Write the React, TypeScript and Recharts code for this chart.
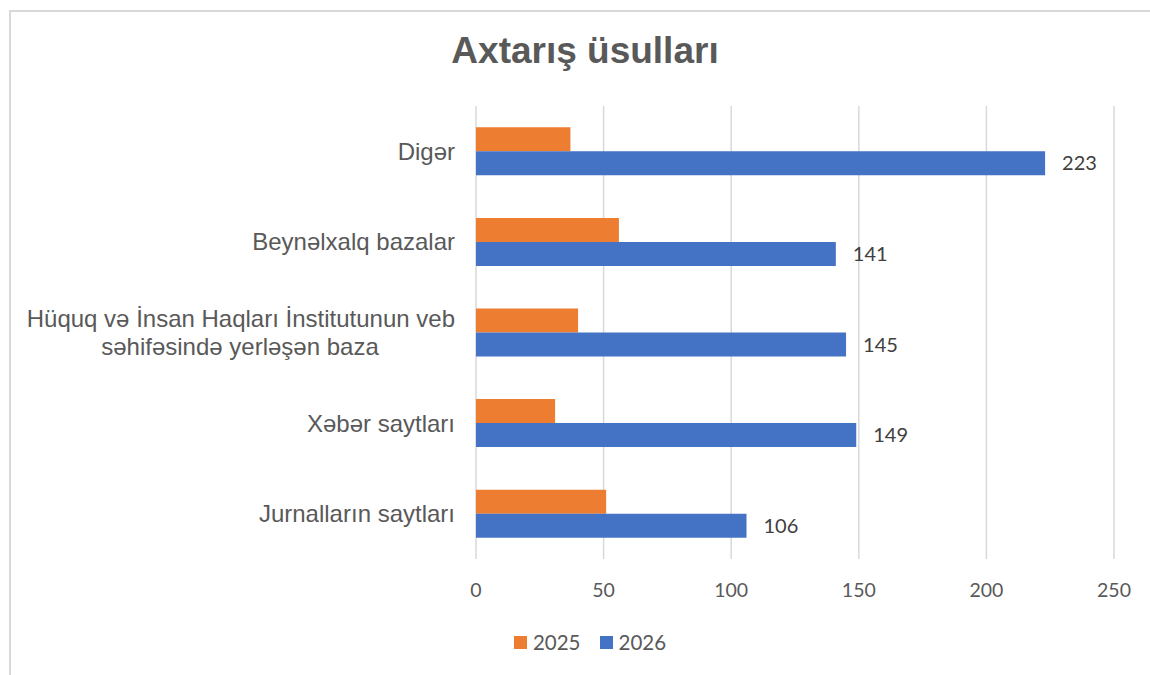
import {
  Bar,
  BarChart,
  CartesianGrid,
  LabelList,
  Legend,
  XAxis,
  YAxis,
} from 'recharts';

const categories = [
  'Digər',
  'Beynəlxalq bazalar',
  'Hüquq və İnsan Haqları İnstitutunun veb|səhifəsində yerləşən baza',
  'Xəbər saytları',
  'Jurnalların saytları',
];
const values2025 = [37, 56, 40, 31, 51];
const values2026 = [223, 141, 145, 149, 106];
const xTicks = [0, 50, 100, 150, 200, 250];

const data = categories.map((name, i) => ({
  name,
  y2025: values2025[i],
  y2026: values2026[i],
}));

const ORANGE = '#ED7D31';
const BLUE = '#4472C4';
const TEXT = '#595959';
const NUM_FONT = 'Lato, "Open Sans", sans-serif';
const LABEL_FONT = '"Liberation Sans", Arial, sans-serif';

function CategoryTick(props: any) {
  const { x, y, payload } = props;
  const lines: string[] = String(payload.value).split('|');
  if (lines.length === 1) {
    return (
      <text x={x} y={y + 8.5} textAnchor="end" fill={TEXT} fontSize={24} fontFamily={LABEL_FONT}>
        {lines[0]}
      </text>
    );
  }
  return (
    <g>
      <text x={x} y={y - 5.5} textAnchor="end" fill={TEXT} fontSize={24} fontFamily={LABEL_FONT}>
        {lines[0]}
      </text>
      <text x={x - 215} y={y + 22.5} textAnchor="middle" fill={TEXT} fontSize={24} fontFamily={LABEL_FONT}>
        {lines[1]}
      </text>
    </g>
  );
}

function LegendContent() {
  const items = [
    { label: '2025', color: ORANGE },
    { label: '2026', color: BLUE },
  ];
  return (
    <div
      style={{
        display: 'flex',
        justifyContent: 'center',
        alignItems: 'center',
        gap: 19,
        height: 28,
        fontFamily: NUM_FONT,
        fontSize: 20.5,
        color: TEXT,
      }}
    >
      {items.map((it) => (
        <span key={it.label} style={{ display: 'inline-flex', alignItems: 'center', gap: 6 }}>
          <span style={{ display: 'inline-block', width: 13, height: 13, background: it.color }} />
          {it.label}
        </span>
      ))}
    </div>
  );
}

export default function App() {
  return (
    <div
      style={{
        position: 'absolute',
        left: 0,
        top: 0,
        width: 1150,
        height: 675,
        background: '#fff',
        overflow: 'hidden',
      }}
    >
      <div
        style={{
          position: 'absolute',
          left: 9,
          top: 10,
          width: 1200,
          height: 700,
          borderLeft: '2px solid #d9d9d9',
          borderTop: '2px solid #d9d9d9',
        }}
      />
      <svg
        width={1150}
        height={80}
        style={{ position: 'absolute', left: 0, top: 0 }}
      >
        <text
          x={585}
          y={63}
          textAnchor="middle"
          fill={TEXT}
          fontSize={37}
          fontWeight="bold"
          fontFamily={LABEL_FONT}
        >
          Axtarış üsulları
        </text>
      </svg>
      <div style={{ position: 'absolute', left: 0, top: 0 }}>
        <BarChart
          width={1150}
          height={675}
          data={data}
          layout="vertical"
          margin={{ top: 106, right: 36, bottom: 86, left: 10 }}
          barCategoryGap="23.5%"
          barGap={0}
        >
          <CartesianGrid horizontal={false} stroke="#d9d9d9" strokeWidth={1.5} />
          <XAxis
            type="number"
            domain={[0, 250]}
            ticks={xTicks}
            height={30}
            axisLine={false}
            tickLine={false}
            tickSize={0}
            tickMargin={24}
            tick={{ fontSize: 19.5, fill: TEXT, fontFamily: NUM_FONT }}
          />
          <YAxis
            type="category"
            dataKey="name"
            width={466}
            axisLine={false}
            tickLine={false}
            tickSize={0}
            tickMargin={21}
            tick={<CategoryTick />}
            interval={0}
          />
          <Legend
            verticalAlign="middle"
            content={<LegendContent />}
            wrapperStyle={{ top: 628, left: 15, width: 1150 }}
          />
          <Bar dataKey="y2025" name="2025" fill={ORANGE} isAnimationActive={false} />
          <Bar dataKey="y2026" name="2026" fill={BLUE} isAnimationActive={false}>
            <LabelList
              dataKey="y2026"
              position="right"
              offset={17}
              fill="#404040"
              fontSize={20}
              fontFamily={NUM_FONT}
            />
          </Bar>
        </BarChart>
      </div>
    </div>
  );
}
